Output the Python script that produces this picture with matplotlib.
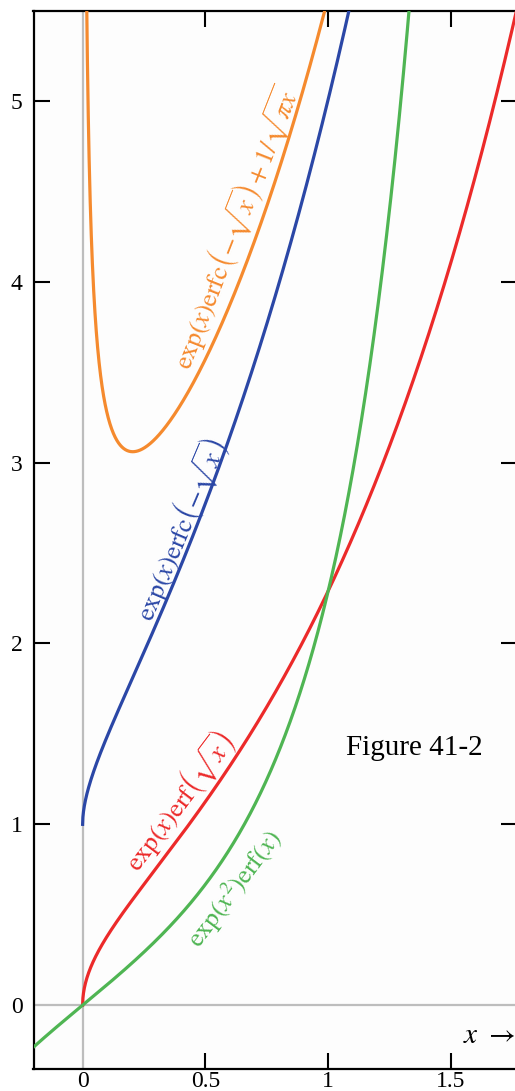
import math
import numpy as np
import matplotlib
matplotlib.use("Agg")
import matplotlib.pyplot as plt

plt.rcParams["font.family"] = ["Liberation Serif", "DejaVu Serif"]
plt.rcParams["mathtext.fontset"] = "stix"

# Axis setup
x_limits = (-0.2, 1.77)
y_limits = (-0.35, 5.5)
x_ticks = [0, 0.5, 1, 1.5]
x_tick_labels = ["0", "0.5", "1", "1.5"]
y_ticks = [0, 1, 2, 3, 4, 5]
y_tick_labels = ["0", "1", "2", "3", "4", "5"]

# Curve colours
c_orange = "#f58a2e"
c_blue = "#2b47a6"
c_red = "#ec2a2a"
c_green = "#4fb553"

erf = np.vectorize(math.erf)

# Sample grids for the four functions
x_pos = np.linspace(0.0, 1.77, 1500)
x_full = np.linspace(-0.2, 1.77, 1500)
x_orange = np.linspace(0.008, 1.77, 2000)

y_blue = np.exp(x_pos) * (1 + erf(np.sqrt(x_pos)))          # exp(x) erfc(-sqrt x)
y_red = np.exp(x_pos) * erf(np.sqrt(x_pos))                 # exp(x) erf(sqrt x)
y_green = np.exp(x_full ** 2) * erf(x_full)                 # exp(x^2) erf(x)
y_orange = (np.exp(x_orange) * (1 + erf(np.sqrt(x_orange)))
            + 1 / np.sqrt(np.pi * x_orange))

W, H = 515, 1091
fig = plt.figure(figsize=(W / 100, H / 100), dpi=100)
fig.patch.set_facecolor("white")
left_px, right_px, top_px, bot_px = 33.5, 517.3, 10.5, 1068.5
ax = fig.add_axes([left_px / W, (H - bot_px) / H,
                   (right_px - left_px) / W, (bot_px - top_px) / H])
ax.set_facecolor("#fdfdfd")
ax.set_xlim(*x_limits)
ax.set_ylim(*y_limits)

ax.axvline(0, color="#bdbdbd", lw=1.6, zorder=1)
ax.axhline(0, color="#bdbdbd", lw=1.6, zorder=1)

lw = 2.3
ax.plot(x_orange, y_orange, color=c_orange, lw=lw, zorder=3)
ax.plot(x_pos, y_blue, color=c_blue, lw=lw, zorder=3)
ax.plot(x_pos, y_red, color=c_red, lw=lw, zorder=3)
ax.plot(x_full, y_green, color=c_green, lw=lw, zorder=3)

for s in ax.spines.values():
    s.set_linewidth(1.6)
    s.set_color("black")

ax.set_xticks(x_ticks)
ax.set_xticklabels(x_tick_labels)
ax.set_yticks(y_ticks)
ax.set_yticklabels(y_tick_labels)
ax.tick_params(axis="both", direction="in", length=11.5, width=1.5,
               labelsize=17, top=True, right=True)
ax.tick_params(axis="x", pad=2)
ax.tick_params(axis="y", pad=8)
for t in (ax.xaxis.get_major_ticks()[0], ax.yaxis.get_major_ticks()[0]):
    t.tick1line.set_visible(False)
    t.tick2line.set_visible(False)

# Curve labels set along the lines
lab_size = 19
ax.text(0.62, 4.3,
        r"$\mathrm{exp}\left(x\right)\mathrm{erfc}\left(-\sqrt{x}\right)+1/\sqrt{\pi x}$",
        color=c_orange, fontsize=lab_size, rotation=68.5,
        ha="center", va="center", rotation_mode="anchor")
ax.text(0.395, 2.63,
        r"$\mathrm{exp}\left(x\right)\mathrm{erfc}\left(-\sqrt{x}\right)$",
        color=c_blue, fontsize=lab_size, rotation=67,
        ha="center", va="center", rotation_mode="anchor")
ax.text(0.39, 1.13,
        r"$\mathrm{exp}\left(x\right)\mathrm{erf}\left(\sqrt{x}\right)$",
        color=c_red, fontsize=lab_size, rotation=53,
        ha="center", va="center", rotation_mode="anchor")
ax.text(0.62, 0.64,
        r"$\mathrm{exp}\left(x^{2}\right)\mathrm{erf}\left(x\right)$",
        color=c_green, fontsize=lab_size, rotation=53,
        ha="center", va="center", rotation_mode="anchor")

ax.text(1.63, 1.42, "Figure 41-2", fontsize=21, ha="right", va="center",
        color="black")
ax.text(1.76, -0.17, r"$x$ $\rightarrow$", fontsize=21, ha="right",
        va="center", color="black")

fig.savefig("out.png", dpi=100, facecolor="white")
